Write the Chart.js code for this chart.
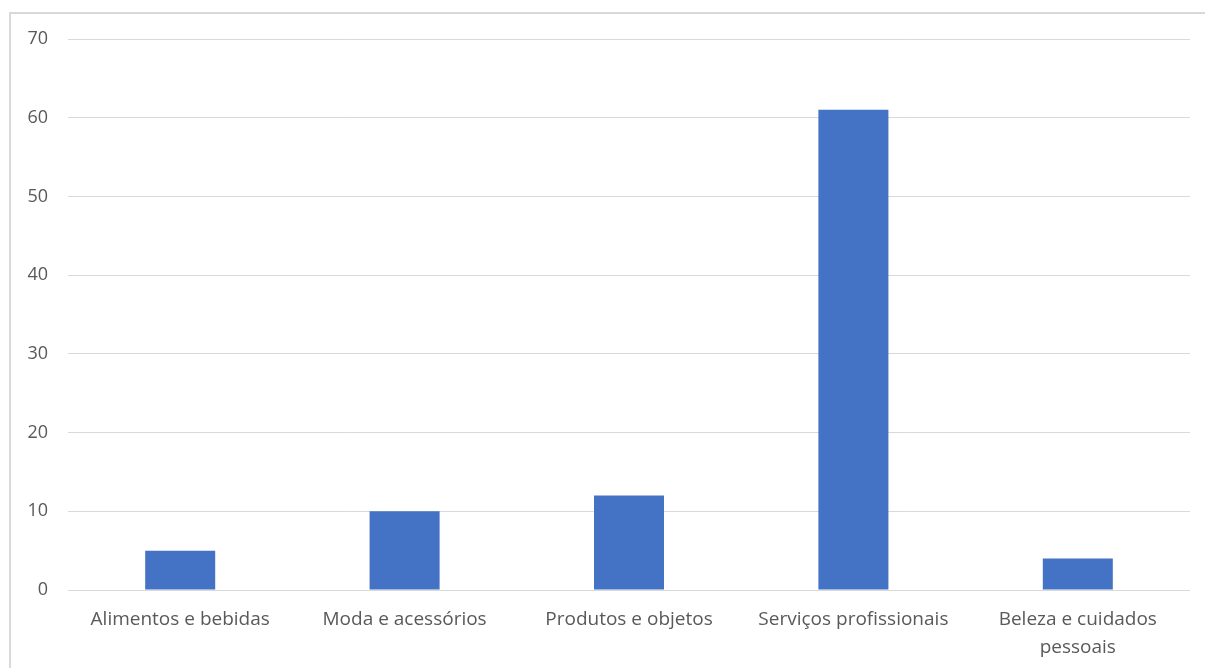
<!DOCTYPE html>
<html>
<head>
<meta charset="utf-8">
<script src="https://cdn.jsdelivr.net/npm/chart.js@4/dist/chart.umd.min.js"></script>
<style>
  html, body { margin: 0; padding: 0; background: #fff; }
  #wrap { position: relative; width: 1205px; height: 668px; overflow: hidden; }
  #frame { position: absolute; left: 9px; top: 12px; width: 1300px; height: 800px;
           border-left: 2px solid #d9d9d9; border-top: 2px solid #d9d9d9; box-sizing: border-box; }
  canvas { position: absolute; left: 0; top: 0; }
</style>
</head>
<body>
<div id="wrap">
  <div id="frame"></div>
  <canvas id="c" width="1205" height="668"></canvas>
</div>
<script>
const categories = [
  "Alimentos e bebidas",
  "Moda e acessórios",
  "Produtos e objetos",
  "Serviços profissionais",
  ["Beleza e cuidados", "pessoais"]
];
const values = [5, 10, 12, 61, 4];
const yTicks = [0, 10, 20, 30, 40, 50, 60, 70];

const FONT = "'Open Sans', 'Noto Sans', sans-serif";

new Chart(document.getElementById('c'), {
  type: 'bar',
  data: {
    labels: categories,
    datasets: [{
      data: values,
      backgroundColor: '#4472C4',
      borderWidth: 0,
      barPercentage: 0.312,
      categoryPercentage: 1.0
    }]
  },
  options: {
    responsive: false,
    animation: false,
    devicePixelRatio: 1,
    layout: { padding: { top: 39, right: 15, left: 0, bottom: 0 } },
    plugins: { legend: { display: false }, tooltip: { enabled: false } },
    scales: {
      y: {
        min: 0, max: 70,
        afterBuildTicks: (s) => { s.ticks = yTicks.map(v => ({ value: v })); },
        afterFit: (s) => { s.width = 68; },
        border: { display: false },
        grid: { color: '#d9d9d9', lineWidth: 1, drawTicks: false },
        ticks: { color: '#595959', padding: 20, font: { family: FONT, size: 18 } }
      },
      x: {
        afterFit: (s) => { s.height = 78; },
        border: { display: false },
        grid: { display: false, drawTicks: false },
        ticks: { color: '#595959', padding: 16, maxRotation: 0, autoSkip: false,
                 font: { family: FONT, size: 19, lineHeight: 1.47 } }
      }
    }
  }
});
</script>
</body>
</html>
